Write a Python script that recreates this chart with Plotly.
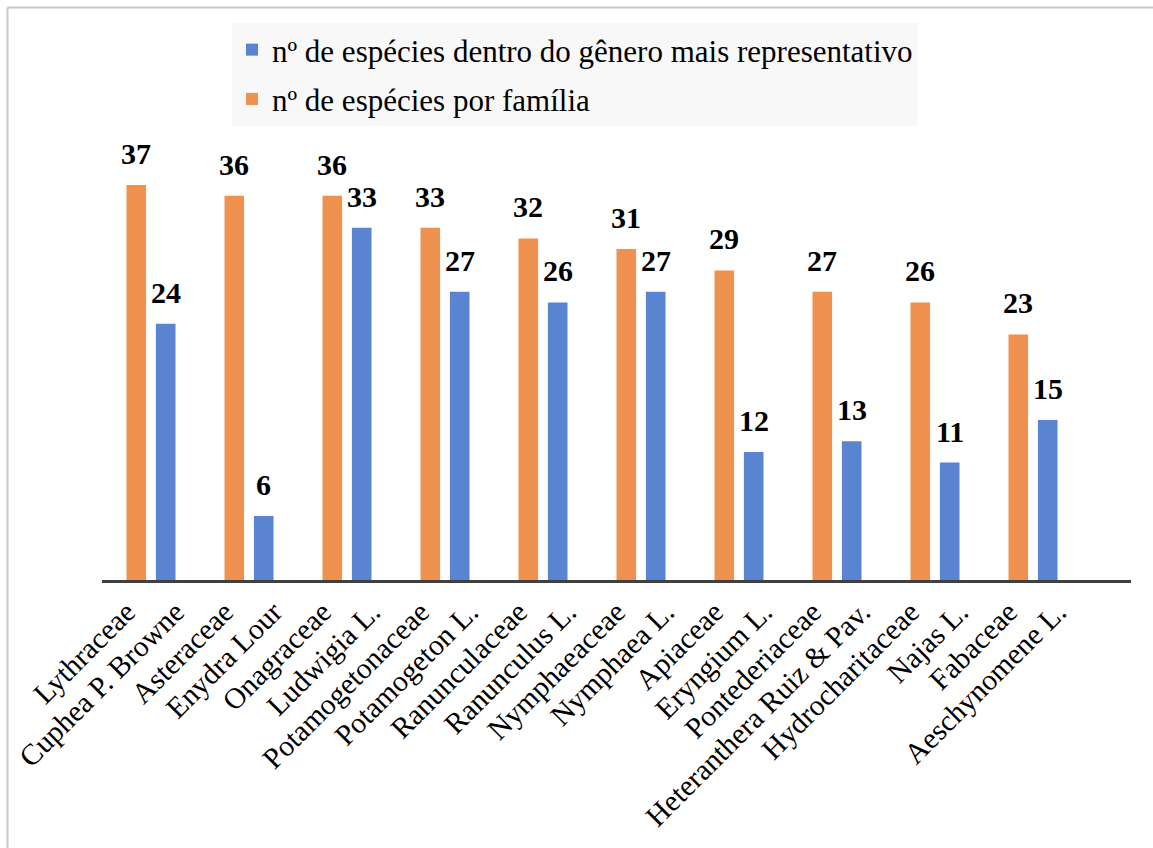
import plotly.graph_objects as go

categories = ["Lythraceae", "Cuphea P. Browne", "Asteraceae", "Enydra Lour",
              "Onagraceae", "Ludwigia L.", "Potamogetonaceae", "Potamogeton L.",
              "Ranunculaceae", "Ranunculus L.", "Nymphaeaceae", "Nymphaea L.",
              "Apiaceae", "Eryngium L.", "Pontederiaceae", "Heteranthera Ruiz & Pav.",
              "Hydrocharitaceae", "Najas L.", "Fabaceae", "Aeschynomene L."]

familias = ["Lythraceae", "Asteraceae", "Onagraceae", "Potamogetonaceae", "Ranunculaceae",
            "Nymphaeaceae", "Apiaceae", "Pontederiaceae", "Hydrocharitaceae", "Fabaceae"]
especies_familia = [37, 36, 36, 33, 32, 31, 29, 27, 26, 23]

generos = ["Cuphea P. Browne", "Enydra Lour", "Ludwigia L.", "Potamogeton L.", "Ranunculus L.",
           "Nymphaea L.", "Eryngium L.", "Heteranthera Ruiz & Pav.", "Najas L.", "Aeschynomene L."]
especies_genero = [24, 6, 33, 27, 26, 27, 12, 13, 11, 15]

serie_genero = "nº de espécies dentro do gênero mais representativo"
serie_familia = "nº de espécies por família"

FONT = "Liberation Serif"
BLUE = "#5B84D0"
ORANGE = "#EF914F"

gen_map = dict(zip(generos, especies_genero))
fam_map = dict(zip(familias, especies_familia))
y_gen = [gen_map.get(c) for c in categories]
y_fam = [fam_map.get(c) for c in categories]

fig = go.Figure()
fig.add_trace(go.Bar(
    x=categories, y=y_gen, name=serie_genero, marker_color=BLUE,
    marker_line_width=0, legendgroup="g",
))
fig.add_trace(go.Bar(
    x=categories, y=y_fam, name=serie_familia, marker_color=ORANGE,
    marker_line_width=0, legendgroup="f",
))

W, H = 1153, 848
L, R, T, B = 102, 22, 153, 268
pw = W - L - R
ph = H - T - B
BARGAP = 0.2
ncat_slots = len(categories) + 1
half_bar = pw / ncat_slots * (1 - BARGAP) / 4

def px_x(p):
    return (p - L) / pw

def px_y(p):
    return (H - B - p) / ph

annotations = []
for c, v in zip(generos, especies_genero):
    annotations.append(dict(x=c, y=v, xref="x", yref="y", text="<b>%d</b>" % v,
                            showarrow=False, xanchor="center", yanchor="bottom",
                            xshift=-half_bar, yshift=13,
                            font=dict(family=FONT, size=30, color="black")))
for c, v in zip(familias, especies_familia):
    annotations.append(dict(x=c, y=v, xref="x", yref="y", text="<b>%d</b>" % v,
                            showarrow=False, xanchor="center", yanchor="bottom",
                            xshift=half_bar, yshift=13,
                            font=dict(family=FONT, size=30, color="black")))

fig.update_layout(
    width=W, height=H,
    margin=dict(l=L, r=R, t=T, b=B, pad=0),
    paper_bgcolor="white", plot_bgcolor="white",
    barmode="group", bargap=BARGAP, bargroupgap=0,
    font=dict(family=FONT, color="black"),
    showlegend=True,
    legend=dict(
        x=px_x(232), y=px_y(23), xanchor="left", yanchor="top",
        bgcolor="#f8f8f8", borderwidth=0,
        font=dict(family=FONT, size=31, color="black"),
        traceorder="grouped", tracegroupgap=6,
    ),
    xaxis=dict(
        type="category", categoryorder="array", categoryarray=categories,
        range=[-0.5, len(categories) + 0.5],
        showline=True, linecolor="#404040", linewidth=3,
        showgrid=False, zeroline=False, ticks="",
        tickangle=-45, tickfont=dict(family=FONT, size=29.5, color="black"),
        fixedrange=True,
    ),
    yaxis=dict(range=[0, 40], visible=False, fixedrange=True),
    annotations=annotations,
    shapes=[
        dict(type="line", xref="paper", yref="paper",
             x0=px_x(7.5), x1=px_x(W), y0=px_y(7.5), y1=px_y(7.5),
             line=dict(color="#c8c8c8", width=2)),
        dict(type="line", xref="paper", yref="paper",
             x0=px_x(7.5), x1=px_x(7.5), y0=px_y(7.5), y1=px_y(H),
             line=dict(color="#c8c8c8", width=2)),
    ],
)

fig.write_html("out.html")
